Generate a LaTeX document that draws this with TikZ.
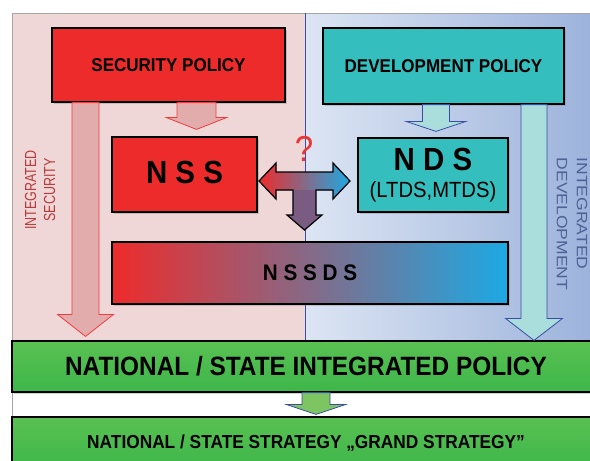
\documentclass[tikz,border=0pt]{standalone}
\usepackage{fontspec}
\setmainfont{Liberation Sans}[FakeStretch=0.92]
\newfontfamily\widefont{Liberation Sans}[FakeStretch=1.17]
\newfontfamily\narrowfont{Liberation Sans}[FakeStretch=0.78]
\usetikzlibrary{positioning,shadows,calc}

\definecolor{panelpink}{HTML}{EFD7D7}
\definecolor{panelblueL}{HTML}{DCE5F3}
\definecolor{panelblueR}{HTML}{9DB3DC}
\definecolor{nssred}{HTML}{EE2B2B}
\definecolor{ndsteal}{HTML}{35BEBE}
\definecolor{boxgreen}{HTML}{3DB64A}
\definecolor{boxgreenT}{HTML}{5AC152}
\definecolor{arrpink}{HTML}{E3ACAC}
\definecolor{arrteal}{HTML}{A9DEDC}
\definecolor{arrgreen}{HTML}{7DC561}
\definecolor{edgered}{HTML}{F03C3C}
\definecolor{edgeblue}{HTML}{3B4DA3}
\definecolor{mixpurple}{HTML}{8A5A80}
\definecolor{mixblue}{HTML}{1CA9E4}
\definecolor{stemcol}{HTML}{7A5C82}
\definecolor{qred}{HTML}{EE3333}
\definecolor{secred}{HTML}{B83A3A}
\definecolor{devblue}{HTML}{4F6296}

% down-pointing block arrow: style, x, from, to, shaft half, head half, head length
\newcommand{\blockdown}[7]{%
  \filldraw[#1] let \p1=(#3), \p2=(#4) in
    ({#2-#5},\y1) -- ({#2+#5},\y1) -- ({#2+#5},\y2+#7pt) -- ({#2+#6},\y2+#7pt)
    -- (#2,\y2) -- ({#2-#6},\y2+#7pt) -- ({#2-#5},\y2+#7pt) -- cycle;}

\begin{document}
\begin{tikzpicture}[x=1pt,y=-1pt]
 \tikzset{box/.style={draw=black,line width=1.2pt,inner sep=0pt,
            drop shadow={opacity=0.35,shadow xshift=2pt,shadow yshift=-2pt}},
          redbox/.style={box,fill=nssred},
          tealbox/.style={box,fill=ndsteal},
          greenbox/.style={box,top color=boxgreenT,bottom color=boxgreen},
          pinkarrow/.style={fill=arrpink,draw=edgered,line width=0.8pt},
          tealarrow/.style={fill=arrteal,draw=edgeblue,line width=0.8pt},
          greenarrow/.style={fill=arrgreen,draw=edgeblue,line width=0.8pt}}
 \useasboundingbox (0,0) rectangle (590,461);
 \fill[white] (0,0) rectangle (590,461);

 % panels
 \fill[panelpink] (12,13) rectangle (305,340);
 \shade[left color=panelblueL,right color=panelblueR] (305,13) rectangle (590,340);
 \draw[gray!70,line width=0.8pt] (12,461) -- (12,13) -- (590,13);
 \draw[edgeblue,line width=0.8pt] (305,13) -- (305,340);

 % boxes
 \node[redbox,minimum width=233pt,minimum height=74pt,
       font=\bfseries\fontsize{18.5}{20}\selectfont] (secpol) at (168.5,65) {SECURITY POLICY};
 \node[tealbox,minimum width=241pt,minimum height=76pt,
       font=\bfseries\fontsize{18.5}{20}\selectfont] (devpol) at (443.5,66) {DEVELOPMENT POLICY};
 \node[redbox,minimum width=145pt,minimum height=75pt,
       font=\bfseries\fontsize{32}{34}\selectfont] (nss) at (184.5,174.5) {\raisebox{4pt}{N S S}};
 \node[tealbox,minimum width=150pt,minimum height=74pt,align=center] (nds) at (433,175)
       {{\bfseries\fontsize{32}{32}\selectfont N D S}\\[9pt]
        {\fontsize{22}{22}\selectfont (LTDS,MTDS)}};
 \node[box,left color=nssred,middle color=mixpurple,right color=mixblue,
       minimum width=396pt,minimum height=62pt,
       font=\bfseries\fontsize{22.5}{24}\selectfont] (nssds) at (310,273) {N S S D S};
 \node[greenbox,minimum width=588pt,minimum height=51pt,
       font=\bfseries\fontsize{26.5}{28}\selectfont] (natpol) at (306,366.5)
       {NATIONAL / STATE INTEGRATED POLICY};
 \node[greenbox,minimum width=588pt,minimum height=52pt,
       font=\bfseries\fontsize{18.8}{20}\selectfont] (natstrat) at (306,443)
       {NATIONAL / STATE STRATEGY „GRAND STRATEGY”};

 % block arrows
 \blockdown{pinkarrow}{85.5}{secpol.south}{[yshift=4pt]natpol.north}{13.5}{28}{22}
 \blockdown{tealarrow}{534}{devpol.south}{natpol.north}{13}{28.5}{22}
 \blockdown{pinkarrow}{196.5}{secpol.south}{[yshift=7pt]nss.north}{19.5}{30.5}{12}
 \blockdown{tealarrow}{436}{devpol.south}{[yshift=6pt]nds.north}{13.5}{30}{10}
 \blockdown{greenarrow}{316}{natpol.south}{[yshift=2pt]natstrat.north}{14}{30}{10}

 % three-way arrow between NSS, NDS and NSSDS
 \fill[left color=nssred,middle color=mixpurple,right color=mixblue]
   (259,181) -- (276,163) -- (276,172) -- (333,172) -- (333,163) -- (350,181)
   -- (333,199) -- (333,190) -- (276,190) -- (276,199) -- cycle;
 \fill[stemcol] (293,190) -- (316,190) -- (316,215) -- (322,215) -- (304.5,230)
   -- (287,215) -- (293,215) -- cycle;
 \draw[black,line width=1.2pt,line join=miter]
   (259,181) -- (276,163) -- (276,172) -- (333,172) -- (333,163) -- (350,181)
   -- (333,199) -- (333,190) -- (316,190) -- (316,215) -- (322,215) -- (304.5,230)
   -- (287,215) -- (293,215) -- (293,190) -- (276,190) -- (276,199) -- cycle;
 \node[text=qred,font=\fontsize{36}{36}\selectfont] (qmark) at (304,149) {?};

 % side labels
 \node[rotate=90,align=center,text=secred,
       font=\narrowfont\fontsize{16}{19}\selectfont] (intsec) at (40,190) {INTEGRATED\\SECURITY};
 \node[rotate=-90,align=left,text=devblue,
       font=\widefont\fontsize{15}{20}\selectfont] (intdev) at (572,224) {INTEGRATED\\DEVELOPMENT};
\end{tikzpicture}
\end{document}
